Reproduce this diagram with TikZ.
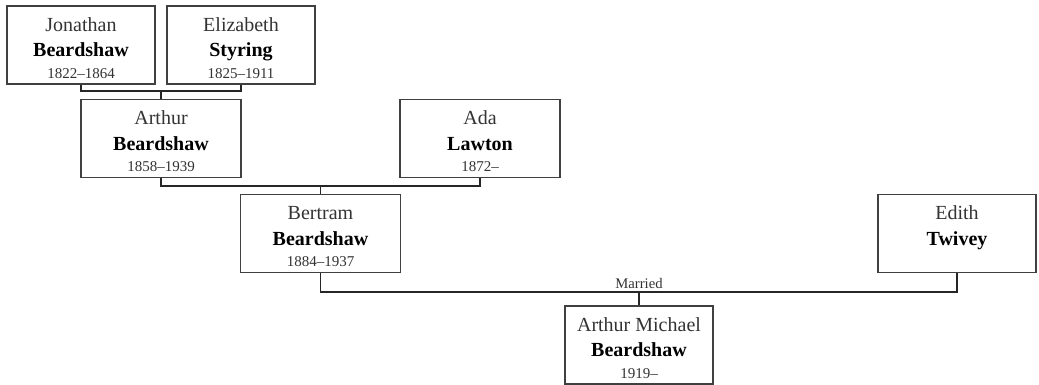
\documentclass[tikz,border=0pt]{standalone}
\usepackage{fontspec}
\setmainfont{Liberation Serif}
\newcommand{\who}[3]{\rule{0pt}{18.5pt}#1\\[1pt]\textbf{\color{black}#2}\\[-2pt]{\fontsize{11.25}{13}\selectfont #3\strut}}
\begin{document}
\begin{tikzpicture}[x=0.75pt,y=-0.75pt,
    person/.style={draw=black!75, line width=1.2pt, fill=white, align=center,
        text=black!80, font=\fontsize{15}{18}\selectfont, inner sep=0pt,
        minimum height=58.5pt},
    link/.style={draw=black!85, line width=1.1pt}]
    \useasboundingbox (0,0) rectangle (1039,385);
    % first generation
    \node[person, minimum width=111pt] (jon) at (81,45) {\who{Jonathan}{Beardshaw}{1822--1864}};
    \node[person, minimum width=111pt] (eliz) at (241,45) {\who{Elizabeth}{Styring}{1825--1911}};
    % second generation
    \node[person, minimum width=120pt] (arthur) at (161,138.5) {\who{Arthur}{Beardshaw}{1858--1939}};
    \node[person, minimum width=120pt] (ada) at (480,138.5) {\who{Ada}{Lawton}{1872--}};
    % third generation
    \node[person, minimum width=120pt] (bertram) at (320.5,233.5) {\who{Bertram}{Beardshaw}{1884--1937}};
    \node[person, minimum width=118.5pt] (edith) at (957,233.5) {\who{Edith}{Twivey}{}};
    % fourth generation
    \node[person, minimum width=111pt] (am) at (639,345) {\who{Arthur Michael}{Beardshaw}{1919--}};
    % marriages
    \coordinate (m1) at (161,91);
    \coordinate (m2) at (320.5,186);
    \coordinate (m3) at (639,292);
    \draw[link] (jon.south) |- (m1) -| (eliz.south);
    \draw[link] (m1) -- (arthur.north);
    \draw[link] (arthur.south) |- (m2) -| (ada.south);
    \draw[link] (m2) -- (bertram.north);
    \draw[link] (bertram.south) |- (m3) -| (edith.south);
    \draw[link] (m3) -- (am.north);
    \node[above, inner sep=2pt, text=black!80, font=\fontsize{11}{13}\selectfont] (wed) at (m3) {Married};
\end{tikzpicture}
\end{document}
